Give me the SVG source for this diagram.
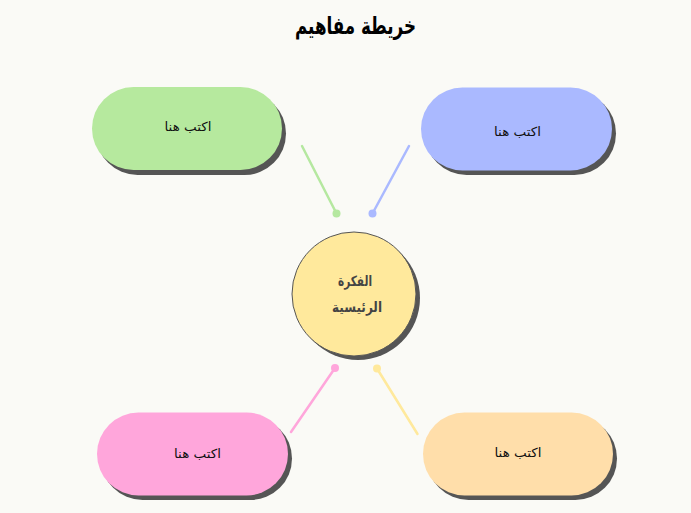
<svg xmlns="http://www.w3.org/2000/svg" width="691" height="513" viewBox="0 0 691 513">
<style>
.bg{fill:#fafaf6}
.shadow{fill:#555555}
.pill-text{font-family:"DejaVu Sans",sans-serif;font-size:12.5px;fill:#111;text-anchor:middle;dominant-baseline:central}
.center-text{font-family:"DejaVu Sans",sans-serif;font-size:14px;font-weight:bold;fill:#444;text-anchor:middle;dominant-baseline:central}
.title{font-family:"DejaVu Sans",sans-serif;font-size:24px;font-weight:bold;fill:#000;text-anchor:middle;dominant-baseline:central}
.conn{stroke-width:2.5;fill:none;stroke-linecap:round}
</style>
<rect class="bg" x="0" y="0" width="691" height="513"/>
<text class="title" x="355.5" y="26" textLength="121" lengthAdjust="spacingAndGlyphs">خريطة مفاهيم</text>
<g id="connectors">
<line class="conn" x1="302" y1="146" x2="336.5" y2="213.5" stroke="#b5e8a0"/>
<circle cx="336.5" cy="213.5" r="4" fill="#b5e8a0"/>
<line class="conn" x1="409" y1="146" x2="372.5" y2="213.5" stroke="#aab9ff"/>
<circle cx="372.5" cy="213.5" r="4" fill="#aab9ff"/>
<line class="conn" x1="291" y1="432" x2="335" y2="368" stroke="#ffa6db"/>
<circle cx="335" cy="368" r="4" fill="#ffa6db"/>
<line class="conn" x1="417.5" y1="434" x2="377" y2="368.5" stroke="#ffe99c"/>
<circle cx="377" cy="368.5" r="4" fill="#ffe99c"/>
</g>
<g id="node-green">
<rect class="shadow" x="96" y="92" width="190" height="83" rx="41.5"/>
<rect x="92" y="87" width="190" height="83" rx="41.5" fill="#b6e99e"/>
<text class="pill-text" x="188" y="126" textLength="47" lengthAdjust="spacingAndGlyphs">اكتب هنا</text>
</g>
<g id="node-blue">
<rect class="shadow" x="425" y="92" width="191" height="83" rx="41.5"/>
<rect x="421" y="87.5" width="191" height="83" rx="41.5" fill="#aab9ff"/>
<text class="pill-text" x="517.5" y="131" textLength="47" lengthAdjust="spacingAndGlyphs">اكتب هنا</text>
</g>
<g id="node-pink">
<rect class="shadow" x="101" y="417" width="191" height="83" rx="41.5"/>
<rect x="97" y="412.5" width="191" height="83" rx="41.5" fill="#ffa6db"/>
<text class="pill-text" x="197.5" y="453" textLength="47" lengthAdjust="spacingAndGlyphs">اكتب هنا</text>
</g>
<g id="node-orange">
<rect class="shadow" x="427" y="417" width="190" height="83" rx="41.5"/>
<rect x="423" y="412.5" width="190" height="83" rx="41.5" fill="#ffdeaa"/>
<text class="pill-text" x="518" y="452" textLength="47" lengthAdjust="spacingAndGlyphs">اكتب هنا</text>
</g>
<g id="node-center">
<circle class="shadow" cx="358" cy="298" r="62"/>
<circle cx="354" cy="294" r="62" fill="#ffe99c" stroke="#555" stroke-width="1"/>
<text class="center-text" x="355" y="281" textLength="34" lengthAdjust="spacingAndGlyphs">الفكرة</text>
<text class="center-text" x="357" y="307" textLength="50" lengthAdjust="spacingAndGlyphs">الرئيسية</text>
</g>
</svg>
